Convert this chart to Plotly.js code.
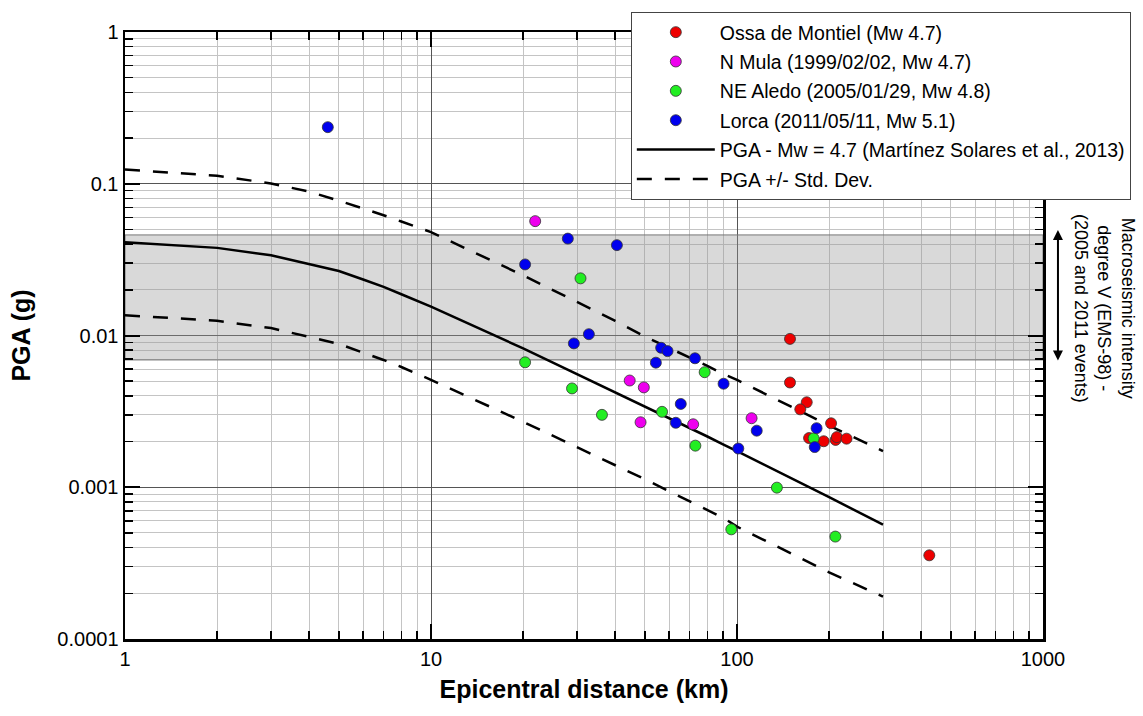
<!DOCTYPE html>
<html>
<head>
<meta charset="utf-8">
<script src="https://cdn.plot.ly/plotly-3.0.1.min.js"></script>
<style>html,body{margin:0;padding:0;background:#fff;}#chart{width:1143px;height:716px;}</style>
</head>
<body>
<div id="chart"></div>
<script>
// ---- data ----
var ossaX = [149, 149, 169, 161, 203, 172, 192, 210, 212, 228, 425];
var ossaY = [0.0095, 0.0049, 0.00363, 0.00326, 0.00264, 0.00211, 0.00201, 0.00205, 0.00214, 0.00209, 0.000356];

var mulaX = [21.9, 44.6, 49.6, 48.4, 71.9, 111.6];
var mulaY = [0.0567, 0.00505, 0.00455, 0.00268, 0.0026, 0.00285];

var aledoX = [30.8, 20.3, 28.9, 36.2, 56.9, 78.4, 73.1, 135, 95.8, 209.6, 178];
var aledoY = [0.0238, 0.00666, 0.00448, 0.003, 0.00314, 0.00573, 0.00188, 0.000994, 0.000528, 0.000473, 0.0021];

var lorcaX = [4.6, 20.3, 28.0, 40.5, 32.8, 29.3, 56.5, 59.3, 54.3, 72.9, 90.4, 65.5, 63.1, 101, 116, 182, 179.5];
var lorcaY = [0.236, 0.0294, 0.0435, 0.0394, 0.0102, 0.00887, 0.0083, 0.00789, 0.00662, 0.00708, 0.00481, 0.00354, 0.00266, 0.0018, 0.00236, 0.00245, 0.00184];

var curveX = [1, 2, 3, 4, 5, 6, 7, 8, 9, 10, 20, 30, 40, 50, 60, 70, 80, 90, 100, 200, 300];
var pgaMean = [0.0411, 0.0378, 0.0338, 0.0297, 0.0266, 0.0234, 0.0209, 0.0187, 0.0169, 0.0155, 0.00822, 0.00558, 0.00424, 0.00342, 0.00286, 0.00247, 0.00216, 0.00192, 0.00173, 0.00086, 0.000567];
var pgaUpper = [0.124, 0.113, 0.1005, 0.0887, 0.0774, 0.069, 0.062, 0.0564, 0.0518, 0.048, 0.0249, 0.0166, 0.0125, 0.00985, 0.0083, 0.0072, 0.0063, 0.0056, 0.0051, 0.00255, 0.00173];
var pgaLower = [0.0136, 0.0125, 0.0112, 0.0098, 0.0088, 0.0077, 0.0069, 0.0062, 0.0056, 0.0051, 0.0027, 0.00184, 0.0014, 0.00113, 0.00094, 0.00081, 0.00071, 0.00063, 0.00055, 0.000275, 0.00019];

var bandX = [1, 1000];
var bandY = [0.0069, 0.046];

var xTickVals = [1, 10, 100, 1000];
var xTickText = ['1', '10', '100', '1000'];
var yTickVals = [0.0001, 0.001, 0.01, 0.1, 1];
var yTickText = ['0.0001', '0.001', '0.01', '0.1', '1'];

var FONT = 'Liberation Sans, Arial, sans-serif';

function pts(name, xs, ys, color, rank) {
  return {
    type: 'scatter', mode: 'markers', name: name, x: xs, y: ys,
    legendgroup: name, legendrank: rank,
    marker: {size: 11, color: color, line: {color: '#333333', width: 0.8}},
    hoverinfo: 'x+y'
  };
}

var traces = [
  {
    type: 'scatter', mode: 'lines', showlegend: false, hoverinfo: 'skip',
    x: [bandX[0], bandX[1], bandX[1], bandX[0], bandX[0]],
    y: [bandY[0], bandY[0], bandY[1], bandY[1], bandY[0]],
    fill: 'toself', fillcolor: 'rgba(150,150,150,0.36)',
    line: {color: '#777777', width: 1}
  },
  {
    type: 'scatter', mode: 'lines', name: 'PGA - Mw = 4.7 (Martínez Solares et al., 2013)',
    legendgroup: 'mean', legendrank: 5,
    x: curveX, y: pgaMean, line: {color: '#000', width: 2.5}
  },
  {
    type: 'scatter', mode: 'lines', name: 'PGA +/- Std. Dev.',
    legendgroup: 'std', legendrank: 6,
    x: curveX, y: pgaUpper, line: {color: '#000', width: 2.5, dash: '15px,13px'}
  },
  {
    type: 'scatter', mode: 'lines', name: 'PGA +/- Std. Dev. (lower)', showlegend: false,
    legendgroup: 'std',
    x: curveX, y: pgaLower, line: {color: '#000', width: 2.5, dash: '15px,13px'}
  },
  pts('Ossa de Montiel (Mw 4.7)', ossaX, ossaY, '#ee0000', 1),
  pts('N Mula (1999/02/02, Mw 4.7)', mulaX, mulaY, '#ee00ee', 2),
  pts('NE Aledo (2005/01/29, Mw 4.8)', aledoX, aledoY, '#22ee22', 3),
  pts('Lorca (2011/05/11, Mw 5.1)', lorcaX, lorcaY, '#0000ee', 4)
];

var axisCommon = {
  type: 'log',
  showline: true, linecolor: '#000', linewidth: 2.5, mirror: 'allticks',
  ticks: 'inside', ticklen: 15, tickwidth: 2, tickcolor: '#000',
  showgrid: true, gridcolor: '#555555', gridwidth: 1,
  zeroline: false,
  tickfont: {family: FONT, size: 20, color: '#000'},
  tickmode: 'array',
  minor: {tickmode: 'linear', dtick: 'D1', ticks: 'inside', ticklen: 8, tickwidth: 1.5, tickcolor: '#000',
          showgrid: true, gridcolor: '#c4c4c4', gridwidth: 1}
};

var layout = {
  width: 1143, height: 716,
  margin: {l: 125, r: 98, t: 27, b: 77},
  paper_bgcolor: '#fff', plot_bgcolor: '#fff',
  showlegend: true,
  xaxis: Object.assign({}, axisCommon, {
    range: [0, 3], tickvals: xTickVals, ticktext: xTickText,
    title: {text: '<b>Epicentral distance (km)</b>', font: {family: FONT, size: 25, color: '#000'}, standoff: 12}
  }),
  yaxis: Object.assign({}, axisCommon, {
    range: [-4, 0], tickvals: yTickVals, ticktext: yTickText,
    title: {text: '<b>PGA (g)</b>', font: {family: FONT, size: 25, color: '#000'}, standoff: 20}
  }),
  legend: {
    x: 0.551, y: 1.033, xanchor: 'left', yanchor: 'top',
    bgcolor: '#fff', bordercolor: '#444', borderwidth: 1,
    font: {family: FONT, size: 19.5, color: '#000'},
    itemwidth: 78, traceorder: 'grouped', tracegroupgap: 1
  },
  annotations: [
    {
      xref: 'paper', yref: 'paper', x: 1.0663, y: 0.544,
      xanchor: 'center', yanchor: 'middle',
      text: 'Macroseismic intensity<br>degree V (EMS-98) -<br>(2005 and 2011 events)',
      textangle: 90, showarrow: false, align: 'center',
      font: {family: FONT, size: 18, color: '#000'}
    },
    {
      xref: 'paper', yref: 'paper', x: 1.0163, y: 0.674,
      ax: 0, ay: 132, axref: 'pixel', ayref: 'pixel',
      text: '', showarrow: true, arrowside: 'end+start',
      arrowhead: 2, arrowsize: 1, arrowwidth: 2, arrowcolor: '#000', standoff: 0, startstandoff: 0
    }
  ]
};

Plotly.newPlot('chart', traces, layout, {displayModeBar: false, staticPlot: true});
</script>
</body>
</html>
